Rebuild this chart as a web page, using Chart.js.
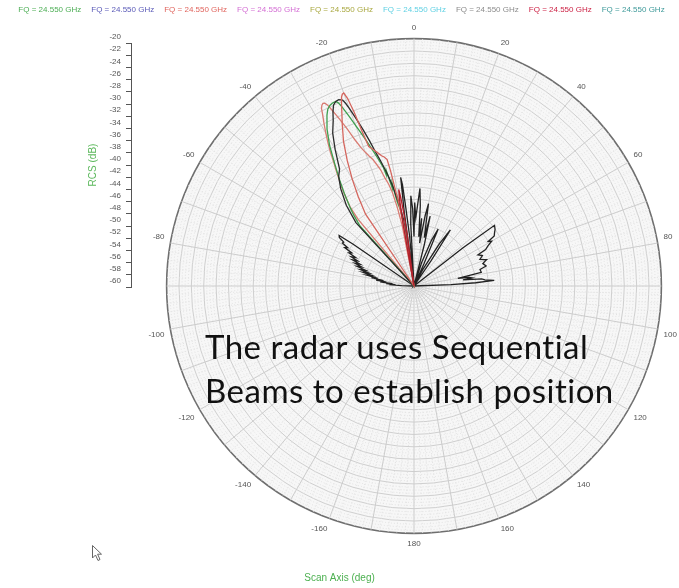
<!DOCTYPE html>
<html>
<head>
<meta charset="utf-8">
<script src="https://cdn.jsdelivr.net/npm/chart.js@4.4.1/dist/chart.umd.min.js"></script>
<style>
  html, body { margin: 0; padding: 0; background: #fff; }
  #page { position: relative; width: 679px; height: 588px; overflow: hidden; }
  #polarBox { position: absolute; left: 0; top: 0; width: 679px; height: 588px; }
  #rcsBox { position: absolute; left: 0; top: 0; width: 145px; height: 300px; }
  #note {
    position: absolute; left: 205px; top: 324px;
    font-family: Lato, 'Open Sans', sans-serif; font-size: 33px; line-height: 44px;
    letter-spacing: 0.5px; color: #111; white-space: nowrap;
  }
  #cursor { position: absolute; left: 92px; top: 545px; }
</style>
</head>
<body>
<div id="page">
  <div id="polarBox"><canvas id="polar"></canvas></div>
  <div id="rcsBox"><canvas id="rcs"></canvas></div>
  <div id="note">The radar uses Sequential<br>Beams to establish position</div>
  <svg id="cursor" width="12" height="17" viewBox="0 0 12 17">
    <path d="M0.5,0.5 L0.5,13 L3.5,10 L6,15.5 L8,14.5 L5.6,9.2 L9.5,9.2 Z" fill="#fff" stroke="#666" stroke-width="1"/>
  </svg>
</div>
<script>
// scan axis ticks shown round the plot (deg) and the RCS range (dB)
const angleTicks = [0, 20, 40, 60, 80, 100, 120, 140, 160, 180, -160, -140, -120, -100, -80, -60, -40, -20];
const rcsMin = -60;
const rcsMax = -20;
const rcsStep = 2;

// legend entries across the top
const legendText = 'FQ = 24.550 GHz';
const legendColors = ['#4cae55', '#5b5bb8', '#e0655e', '#d46fd4', '#a9a840', '#5fd0e3', '#8c8c8c', '#cc2245', '#3f9a9a'];

// beam patterns, [scan angle (deg), RCS (dB)]
const beamRedLeft = [
  [-41, -60], [-40, -46], [-39, -43.7], [-38, -42.5], [-37, -41.2], [-36, -40], [-35, -38.8], [-34, -37.5],
  [-33, -36.2], [-32, -34.5], [-31, -33], [-30, -31.5], [-29, -30], [-28, -28.5], [-27.5, -27.6], [-27, -27.2],
  [-26.5, -27.0], [-26, -27.1], [-25.5, -27.6], [-25, -28.6], [-24, -30.5], [-23, -32.5], [-22, -34.5], [-21, -36],
  [-20, -37], [-19, -37.8], [-18, -38.5], [-17, -39.5], [-16, -40.5], [-15, -42], [-14, -43], [-13, -44.5],
  [-12, -47], [-11, -50], [-10, -60],
];

const beamGreen = [
  [-43, -60], [-42, -47], [-40.5, -45.1], [-39, -43.5], [-37, -41.3], [-35, -39], [-33, -36.5], [-31, -33.5],
  [-29, -31], [-27, -29], [-26, -28.2], [-25, -27.8], [-24, -27.6], [-23, -27.6], [-22.5, -27.9], [-22, -28.6],
  [-21, -30.5], [-20, -32.3], [-19, -34], [-18, -35.5], [-17, -37], [-16, -38.3], [-15, -39.6], [-14.5, -40.2],
  [-14, -41.5], [-13.5, -40.8], [-13, -42.5], [-12.5, -43.8], [-12, -43], [-11.5, -45.5], [-11, -46.5],
  [-10.5, -45.8], [-10, -48], [-9, -51], [-8, -60],
];

const beamBlack = [
  [-44, -60], [-42.5, -46.1], [-40, -43], [-37, -40.3], [-34.5, -38.5], [-32.5, -37.6], [-30, -34.5], [-28, -32],
  [-26, -30.2], [-25, -29], [-24, -28], [-23, -27.6], [-22, -27.5], [-21, -27.8], [-20.5, -28.5], [-20, -29.5],
  [-19, -31.5], [-18, -33.5], [-17, -35.5], [-16, -37.5], [-15, -39], [-14, -40.5], [-13, -42], [-12, -43.5],
  [-11, -45.5], [-10, -47], [-9, -49], [-8, -60],
];

const beamRedTall = [
  [-36, -60], [-34, -46], [-32, -43], [-30, -40], [-28, -37], [-26, -34], [-24, -31.5], [-22.5, -29.5],
  [-21.5, -28], [-21, -27.3], [-20.5, -26.9], [-20, -26.8], [-19.5, -27.8], [-19, -30.3], [-18.5, -34],
  [-18, -36.3], [-17, -36.8], [-16, -37.3], [-15, -37.8], [-14, -38.3], [-13, -38.6], [-12, -39.1],
  [-11.5, -41], [-11, -44], [-10.5, -46], [-10, -48.5], [-9.5, -50], [-9, -60],
];

const beamCrimson = [
  [-12, -60], [-10, -50], [-9.5, -46], [-9, -44.2], [-8.5, -45.5], [-8, -48], [-7.5, -52], [-7, -60],
];

const sideLobes = [
  [0, -52], [0.5, -46.5], [1.5, -49], [2.5, -47], [3.5, -44.2], [4.5, -47], [5.5, -52], [6.5, -49],
  [7.5, -53], [9, -48.5], [10, -46.5], [11, -50], [12, -52], [13, -48.4], [14, -53], [15.5, -60],
  [18, -56], [21, -52], [23, -50], [24, -56], [25, -60],
  [28, -57], [31, -52], [33, -49.2], [34, -55], [35, -60],
  [50, -60], [52, -50], [53, -43.7], [55, -44], [57, -44.5], [58, -44.7], [59, -46], [60, -45.5],
  [61.5, -46.4], [63, -47], [64, -48.5], [66, -47.9], [68, -48.5], [70, -47.5], [72, -48.3], [74.5, -47.9],
  [76, -49], [78.5, -48.9], [80, -52.8], [81, -51], [82, -50.5], [83, -52], [84, -49], [85, -48.5],
  [86, -47], [87, -50], [88, -54], [90, -60],
  [-90, -60], [-88, -58], [-87, -56], [-86, -57], [-85, -55.5], [-84, -56.5], [-83, -54.5], [-82, -55.5],
  [-81, -53.8], [-80, -55], [-79, -53], [-78, -54], [-77, -52.2], [-76, -53], [-75, -51.5], [-74, -52.4],
  [-73, -51], [-72, -51.8], [-71, -50.3], [-70, -51], [-69, -49.8], [-68, -50.6], [-67, -49.2], [-66, -50],
  [-65, -48.8], [-64, -49.5], [-63, -48.2], [-62, -48.6], [-61, -47.2], [-60, -47.6], [-59, -46.5],
  [-58, -46.6], [-57, -45.6], [-56, -45.4], [-55.5, -48], [-55, -60],
  [-8, -60], [-7.5, -48], [-7, -42.3], [-6.5, -43.5], [-6, -47], [-5, -52], [-4, -60], [-3, -50],
  [-2, -45.4], [-1, -47.5],
];

Chart.defaults.font.family = "'Liberation Sans', Arial, sans-serif";

// half degree steps round the circle, 0 at the top, clockwise
const stepsPerDeg = 2;
const angleSlots = [];
for (let i = 0; i < 360 * stepsPerDeg; i++) {
  angleSlots.push(i / stepsPerDeg);
}

const toSlots = (points) => {
  const values = angleSlots.map(() => null);
  points.forEach(([angle, db]) => {
    const a = ((angle % 360) + 360) % 360;
    values[Math.round(a * stepsPerDeg)] = db;
  });
  return values;
};

const tickText = (slotAngle) => {
  const signed = slotAngle > 180 ? slotAngle - 360 : slotAngle;
  return angleTicks.includes(signed) ? String(signed) : '';
};

const beam = (points, color) => ({
  data: toSlots(points),
  borderColor: color,
  backgroundColor: color,
  borderWidth: 1.3,
  pointRadius: 0,
  pointHoverRadius: 0,
  fill: false,
  spanGaps: true,
  tension: 0,
});

new Chart(document.getElementById('polar'), {
  type: 'radar',
  data: {
    labels: angleSlots,
    datasets: [
      beam(beamCrimson, '#b3202c'),
      beam(beamRedTall, '#d4665e'),
      beam(beamBlack, '#2b2b2b'),
      beam(beamGreen, '#3e9f4f'),
      beam(beamRedLeft, '#d97c73'),
      beam(sideLobes, '#222222'),
    ],
  },
  options: {
    responsive: true,
    maintainAspectRatio: false,
    animation: false,
    devicePixelRatio: 1,
    layout: { padding: { top: 0, left: 0, right: 0, bottom: 0 } },
    plugins: {
      tooltip: { enabled: false },
      legend: {
        position: 'top',
        onClick: null,
        labels: {
          boxWidth: 0,
          padding: 6,
          font: { size: 8 },
          generateLabels: () => legendColors.map((color, i) => ({
            text: legendText,
            fontColor: color,
            fillStyle: 'transparent',
            strokeStyle: 'transparent',
            lineWidth: 0,
            hidden: false,
            datasetIndex: i,
          })),
        },
      },
      title: {
        display: true,
        position: 'bottom',
        text: 'Scan Axis (deg)',
        color: '#4cb050',
        font: { size: 10, weight: 'normal' },
        padding: { top: 22, bottom: 4 },
      },
    },
    scales: {
      // spacer so the plot sits right of the RCS axis while the legend keeps full width
      y: {
        type: 'linear',
        position: 'left',
        ticks: { display: false },
        grid: { display: false },
        border: { display: false },
        afterFit: (scale) => { scale.width = 147; },
      },
      r: {
        min: rcsMin,
        max: rcsMax,
        backgroundColor: '#f7f7f7',
        ticks: { display: false, stepSize: 0.5 },
        grid: {
          circular: true,
          color: (ctx) => {
            const v = ctx.tick.value;
            if (v === rcsMax) return '#6f6f6f';
            return v % rcsStep === 0 ? '#cfcfcf' : '#e2e2e2';
          },
          lineWidth: (ctx) => (ctx.tick.value === rcsMax ? 1.6 : 1),
        },
        border: {
          dash: (ctx) => (ctx.tick && ctx.tick.value % rcsStep !== 0 ? [1, 2] : []),
        },
        angleLines: {
          color: (ctx) => (ctx.index % 20 === 0 ? '#cdcdcd' : '#e3e3e3'),
          lineWidth: (ctx) => (ctx.index % 4 === 0 ? 1 : 0),
          borderDash: (ctx) => (ctx.index % 20 === 0 ? [] : [1, 2]),
        },
        pointLabels: {
          display: true,
          padding: 6,
          color: '#555',
          font: { size: 8 },
          callback: (label) => tickText(label),
        },
      },
    },
  },
});

// separate vertical RCS scale on the left
new Chart(document.getElementById('rcs'), {
  type: 'scatter',
  data: { datasets: [] },
  options: {
    responsive: true,
    maintainAspectRatio: false,
    animation: false,
    devicePixelRatio: 1,
    layout: { padding: { top: 43, bottom: 13, left: 80, right: 0 } },
    plugins: { legend: { display: false }, tooltip: { enabled: false } },
    scales: {
      x: { display: false },
      y: {
        position: 'left',
        min: rcsMin,
        max: rcsMax,
        afterFit: (scale) => { scale.width = 51; },
        ticks: {
          stepSize: rcsStep,
          autoSkip: false,
          color: '#555',
          font: { size: 8 },
          padding: 5,
          labelOffset: -6,
        },
        grid: { drawOnChartArea: false, drawTicks: true, tickLength: 5, color: '#555' },
        border: { display: true, color: '#555', width: 1 },
        title: {
          display: true,
          text: 'RCS (dB)',
          color: '#5cb85c',
          font: { size: 10 },
          padding: { top: 7, bottom: 0 },
        },
      },
    },
  },
});
</script>
</body>
</html>
